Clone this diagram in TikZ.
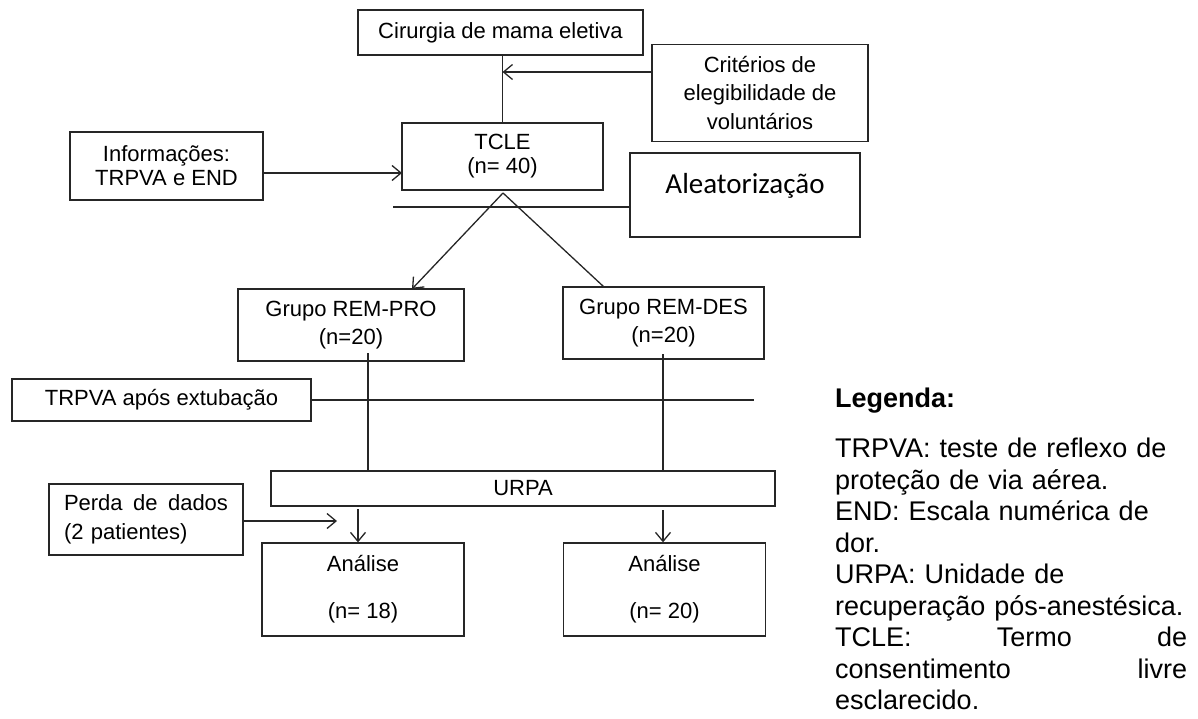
\documentclass[tikz,border=0pt]{standalone}
\usepackage{fontspec}
\setmainfont{Liberation Sans}
\newfontfamily\calibrifont{Carlito}
\usetikzlibrary{arrows.meta}
\newcommand{\boxfont}{\fontsize{22}{25}\selectfont}
\newcommand{\keyfont}{\fontsize{27}{31.5}\selectfont}
\newcommand{\spreadline}[2]{\makebox[#1][s]{\spaceskip=0pt\xspaceskip=0pt\relax #2}}
\tikzset{
  link/.style={draw=black!85, line width=1.3pt},
  feed/.style={link, -{Straight Barb[length=9pt,width=15pt]}},
  stage/.style={draw=black!85, line width=1.3pt, align=center, inner sep=0pt, font=\boxfont},
  legend/.style={anchor=north west, inner sep=0pt, text width=352pt, align=left, font=\keyfont}
}
\begin{document}
\begin{tikzpicture}[x=1pt, y=-1pt]
  \useasboundingbox (0,0) rectangle (1198,718);

  \node[stage, minimum width=285pt, minimum height=45pt] (surg) at (500.5,32.5) {Cirurgia de mama eletiva};
  \node[stage, minimum width=216pt, minimum height=97pt, font=\fontsize{22}{28.5}\selectfont] (crit) at (760,93) {Critérios de\\elegibilidade de\\voluntários};
  \node[stage, minimum width=201pt, minimum height=67pt, font=\fontsize{22}{24}\selectfont] (tcle) at (502.5,156.5) {TCLE\\(n= 40)};
  \node[stage, minimum width=193pt, minimum height=68pt, font=\fontsize{22}{24}\selectfont] (info) at (166.5,166) {Informações:\\TRPVA e END};
  \node[stage, minimum width=230pt, minimum height=84pt] (rand) at (745,195) {};
  \node[anchor=base, inner sep=0pt, font=\calibrifont\fontsize{29}{34}\selectfont] (randlbl) at (745,193) {Aleatorização};

  \node[stage, minimum width=226pt, minimum height=72pt, font=\fontsize{22}{28}\selectfont] (pro) at (351,325) {Grupo REM-PRO\\(n=20)};
  \node[stage, minimum width=201pt, minimum height=72pt, font=\fontsize{22}{28}\selectfont] (des) at (663.5,323) {Grupo REM-DES\\(n=20)};
  \node[stage, minimum width=299pt, minimum height=42pt] (extub) at (161.5,400) {TRPVA após extubação};
  \node[stage, minimum width=504pt, minimum height=35pt] (urpa) at (523,488.5) {URPA};
  \node[stage, minimum width=194pt, minimum height=71pt, text width=164pt, align=left, font=\fontsize{22}{29}\selectfont] (loss) at (146,519.5) {\spreadline{164pt}{Perda de dados}\\(2 patientes)};
  \node[stage, minimum width=202pt, minimum height=93pt] (ana1) at (363,589.5) {Análise\\[22pt](n= 18)};
  \node[stage, minimum width=202pt, minimum height=93pt] (ana2) at (664.5,589.5) {Análise\\[22pt](n= 20)};

  % legenda
  \node[legend] (key) at (835,388) {\textbf{Legenda:}\\[18.5pt]
    TRPVA: teste de reflexo de\\
    proteção de via aérea.\\
    END: Escala numérica de\\
    dor.\\
    URPA: Unidade de\\
    recuperação pós-anestésica.\\
    \spreadline{352pt}{TCLE: Termo de}\\
    \spreadline{352pt}{consentimento livre}\\
    esclarecido.};

  \coordinate (critjoin) at (502.5,72);
  \coordinate (tclein) at (402,173);
  \coordinate (randstart) at (393,207);
  \coordinate (split) at (503,193);
  \coordinate (proin) at (412,289);
  \coordinate (desin) at (604,287);
  \coordinate (proout) at (368,353);
  \coordinate (desout) at (663,354);
  \coordinate (extubend) at (754,400);
  \coordinate (ana1in) at (358,509);
  \coordinate (ana2in) at (663,510);
  \coordinate (lossend) at (337,521);

  \draw[link] (surg.south -| tcle.north) -- (tcle.north);
  \draw[feed] (crit.west |- critjoin) -- (critjoin);
  \draw[feed] (info.east |- tclein) -- (tclein);
  \draw[link] (randstart) -- (randstart -| rand.west);
  \draw[feed] (split) -- (proin);
  \draw[link] (split) -- (desin);
  \draw[link] (proout) -- (proout |- urpa.north);
  \draw[link] (desout) -- (desout |- urpa.north);
  \draw[link] (extub.east) -- (extubend);
  \draw[feed] (ana1in) -- (ana1in |- ana1.north);
  \draw[feed] (ana2in) -- (ana2in |- ana2.north);
  \draw[feed] (loss.east |- lossend) -- (lossend);
\end{tikzpicture}
\end{document}
